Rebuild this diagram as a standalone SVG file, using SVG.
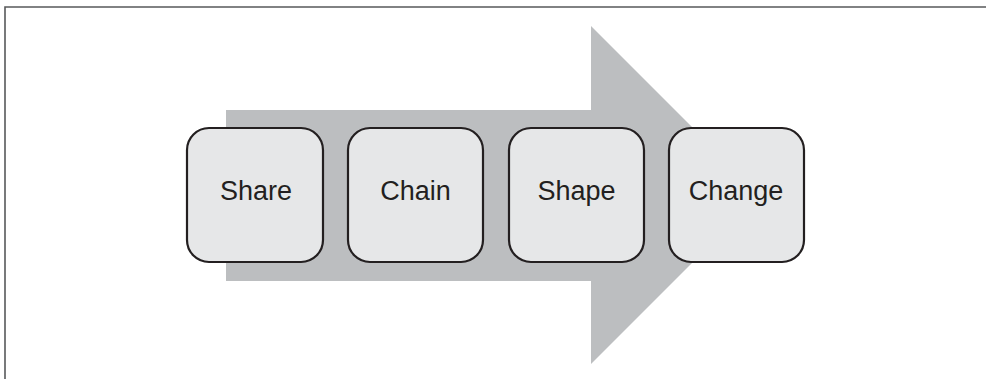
<svg xmlns="http://www.w3.org/2000/svg" width="986" height="379" viewBox="0 0 986 379">
<style>
.frame{fill:none;stroke:#58595b;stroke-width:1.6}
.box{fill:#e6e7e8;stroke:#231f20;stroke-width:2.2}
.lbl{font-family:"Liberation Sans",Arial,sans-serif;font-size:27px;fill:#231f20;text-anchor:middle}
</style>
<rect width="986" height="379" fill="#ffffff"/>
<path class="frame" d="M986 7 H5 V379"/>
<g id="connectors">
<polygon id="arrow" points="226,110 591,110 591,26 760,195 591,364 591,281 226,281" fill="#bcbec0"/>
</g>
<g id="share"><rect class="box" x="187" y="128" width="136" height="134" rx="22"/><text class="lbl" x="256" y="199.5">Share</text></g>
<g id="chain"><rect class="box" x="348" y="128" width="135" height="134" rx="22"/><text class="lbl" x="415.5" y="199.5">Chain</text></g>
<g id="shape"><rect class="box" x="509" y="128" width="135" height="134" rx="22"/><text class="lbl" x="576.5" y="199.5">Shape</text></g>
<g id="change"><rect class="box" x="669" y="128" width="135" height="134" rx="22"/><text class="lbl" x="736" y="199.5">Change</text></g>
</svg>
